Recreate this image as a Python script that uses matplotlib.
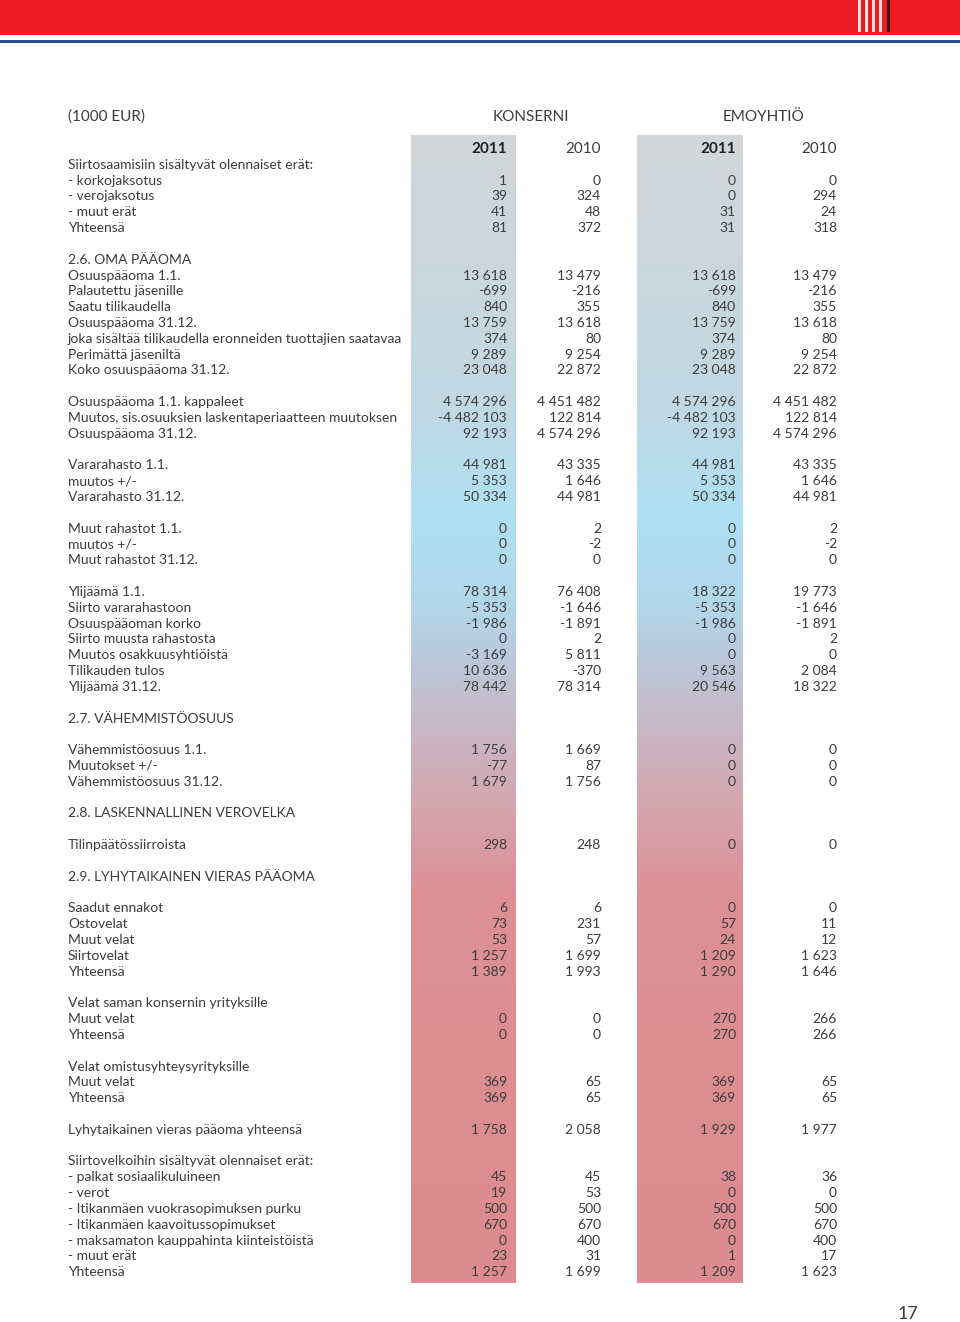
import numpy as np
import matplotlib.pyplot as plt
from matplotlib.colors import LinearSegmentedColormap

labels = [
    "Siirtosaamisiin sisältyvät olennaiset erät:", "- korkojaksotus", "- verojaksotus",
    "- muut erät", "Yhteensä", "",
    "2.6. OMA PÄÄOMA", "Osuuspääoma 1.1.", "Palautettu jäsenille", "Saatu tilikaudella",
    "Osuuspääoma 31.12.", "joka sisältää tilikaudella eronneiden tuottajien saatavaa",
    "Perimättä jäseniltä", "Koko osuuspääoma 31.12.", "",
    "Osuuspääoma 1.1. kappaleet", "Muutos, sis.osuuksien laskentaperiaatteen muutoksen",
    "Osuuspääoma 31.12.", "",
    "Vararahasto 1.1.", "muutos +/-", "Vararahasto 31.12.", "",
    "Muut rahastot 1.1.", "muutos +/-", "Muut rahastot 31.12.", "",
    "Ylijäämä 1.1.", "Siirto vararahastoon", "Osuuspääoman korko", "Siirto muusta rahastosta",
    "Muutos osakkuusyhtiöistä", "Tilikauden tulos", "Ylijäämä 31.12.", "",
    "2.7. VÄHEMMISTÖOSUUS", "",
    "Vähemmistöosuus 1.1.", "Muutokset +/-", "Vähemmistöosuus 31.12.", "",
    "2.8. LASKENNALLINEN VEROVELKA", "",
    "Tilinpäätössiirroista", "",
    "2.9. LYHYTAIKAINEN VIERAS PÄÄOMA", "",
    "Saadut ennakot", "Ostovelat", "Muut velat", "Siirtovelat", "Yhteensä", "",
    "Velat saman konsernin yrityksille", "Muut velat", "Yhteensä", "",
    "Velat omistusyhteysyrityksille", "Muut velat", "Yhteensä", "",
    "Lyhytaikainen vieras pääoma yhteensä", "",
    "Siirtovelkoihin sisältyvät olennaiset erät:", "- palkat sosiaalikuluineen", "- verot",
    "- Itikanmäen vuokrasopimuksen purku", "- Itikanmäen kaavoitussopimukset",
    "- maksamaton kauppahinta kiinteistöistä", "- muut erät", "Yhteensä",
]

konserni_2011 = [
    "", "1", "39", "41", "81", "",
    "", "13 618", "-699", "840", "13 759", "374", "9 289", "23 048", "",
    "4 574 296", "-4 482 103", "92 193", "",
    "44 981", "5 353", "50 334", "",
    "0", "0", "0", "",
    "78 314", "-5 353", "-1 986", "0", "-3 169", "10 636", "78 442", "",
    "", "", "1 756", "-77", "1 679", "",
    "", "", "298", "",
    "", "", "6", "73", "53", "1 257", "1 389", "",
    "", "0", "0", "",
    "", "369", "369", "",
    "1 758", "",
    "", "45", "19", "500", "670", "0", "23", "1 257",
]

konserni_2010 = [
    "", "0", "324", "48", "372", "",
    "", "13 479", "-216", "355", "13 618", "80", "9 254", "22 872", "",
    "4 451 482", "122 814", "4 574 296", "",
    "43 335", "1 646", "44 981", "",
    "2", "-2", "0", "",
    "76 408", "-1 646", "-1 891", "2", "5 811", "-370", "78 314", "",
    "", "", "1 669", "87", "1 756", "",
    "", "", "248", "",
    "", "", "6", "231", "57", "1 699", "1 993", "",
    "", "0", "0", "",
    "", "65", "65", "",
    "2 058", "",
    "", "45", "53", "500", "670", "400", "31", "1 699",
]

emo_2011 = [
    "", "0", "0", "31", "31", "",
    "", "13 618", "-699", "840", "13 759", "374", "9 289", "23 048", "",
    "4 574 296", "-4 482 103", "92 193", "",
    "44 981", "5 353", "50 334", "",
    "0", "0", "0", "",
    "18 322", "-5 353", "-1 986", "0", "0", "9 563", "20 546", "",
    "", "", "0", "0", "0", "",
    "", "", "0", "",
    "", "", "0", "57", "24", "1 209", "1 290", "",
    "", "270", "270", "",
    "", "369", "369", "",
    "1 929", "",
    "", "38", "0", "500", "670", "0", "1", "1 209",
]

emo_2010 = [
    "", "0", "294", "24", "318", "",
    "", "13 479", "-216", "355", "13 618", "80", "9 254", "22 872", "",
    "4 451 482", "122 814", "4 574 296", "",
    "43 335", "1 646", "44 981", "",
    "2", "-2", "0", "",
    "19 773", "-1 646", "-1 891", "2", "0", "2 084", "18 322", "",
    "", "", "0", "0", "0", "",
    "", "", "0", "",
    "", "", "0", "11", "12", "1 623", "1 646", "",
    "", "266", "266", "",
    "", "65", "65", "",
    "1 977", "",
    "", "36", "0", "500", "670", "400", "17", "1 623",
]

years = ["2011", "2010", "2011", "2010"]

plt.rcParams['font.family'] = ['Lato', 'DejaVu Sans']
txt = "#3c3c3c"
fs = 10

fig = plt.figure(figsize=(9.6, 13.22), dpi=100)
ax = fig.add_axes([0, 0, 1, 1])

# top banner
ax.add_patch(plt.Rectangle((0, 0), 960, 35, color="#ed1c24", lw=0))
ax.add_patch(plt.Rectangle((0, 39.5), 960, 3.5, color="#2d4b91", lw=0))
for xs in [858, 865, 872, 879]:
    ax.add_patch(plt.Rectangle((xs, 0), 2.5, 32, color="#f6dede", lw=0))
ax.add_patch(plt.Rectangle((887, 0), 3, 32, color="#3a1010", lw=0))

# gradient columns
grad = LinearSegmentedColormap.from_list("g", [
    (0.0, "#d3d6d9"), (0.23, "#c2d8e3"), (0.33, "#aee0f4"), (0.41, "#b2d6ea"),
    (0.50, "#c4bccb"), (0.58, "#d4a7b0"), (0.66, "#dc9096"), (1.0, "#dc8c90")])
g = np.linspace(0, 1, 300).reshape(-1, 1)
for x0, x1 in [(411, 516), (637, 743)]:
    ax.imshow(g, cmap=grad, aspect="auto", extent=(x0, x1, 1283, 135), zorder=0)
ax.set_xlim(0, 960)
ax.set_ylim(1322, 0)
ax.axis("off")

ax.text(68, 117, "(1000 EUR)", fontsize=fs + 1, color=txt, va="center")
ax.text(531, 117, "KONSERNI", fontsize=fs + 1, color=txt, va="center", ha="center")
ax.text(764, 117, "EMOYHTIÖ", fontsize=fs + 1, color=txt, va="center", ha="center")

col_x = [507, 601, 736, 837]
y0 = 149
dy = 15.82
for j, yr in enumerate(years):
    ax.text(col_x[j], y0, yr, fontsize=fs + 1, color="#222222" if yr == "2011" else txt,
            ha="right", va="center", fontweight="bold" if yr == "2011" else "normal")

cols = [konserni_2011, konserni_2010, emo_2011, emo_2010]
for i, lab in enumerate(labels):
    y = y0 + dy * (i + 1)
    ax.text(68, y, lab, fontsize=fs, color=txt, va="center")
    for j, col in enumerate(cols):
        ax.text(col_x[j], y, col[i], fontsize=fs, color=txt, ha="right", va="center")

ax.text(908, 1314, "17", fontsize=13, color=txt, ha="center", va="center")

fig.savefig("out.png", dpi=100)
